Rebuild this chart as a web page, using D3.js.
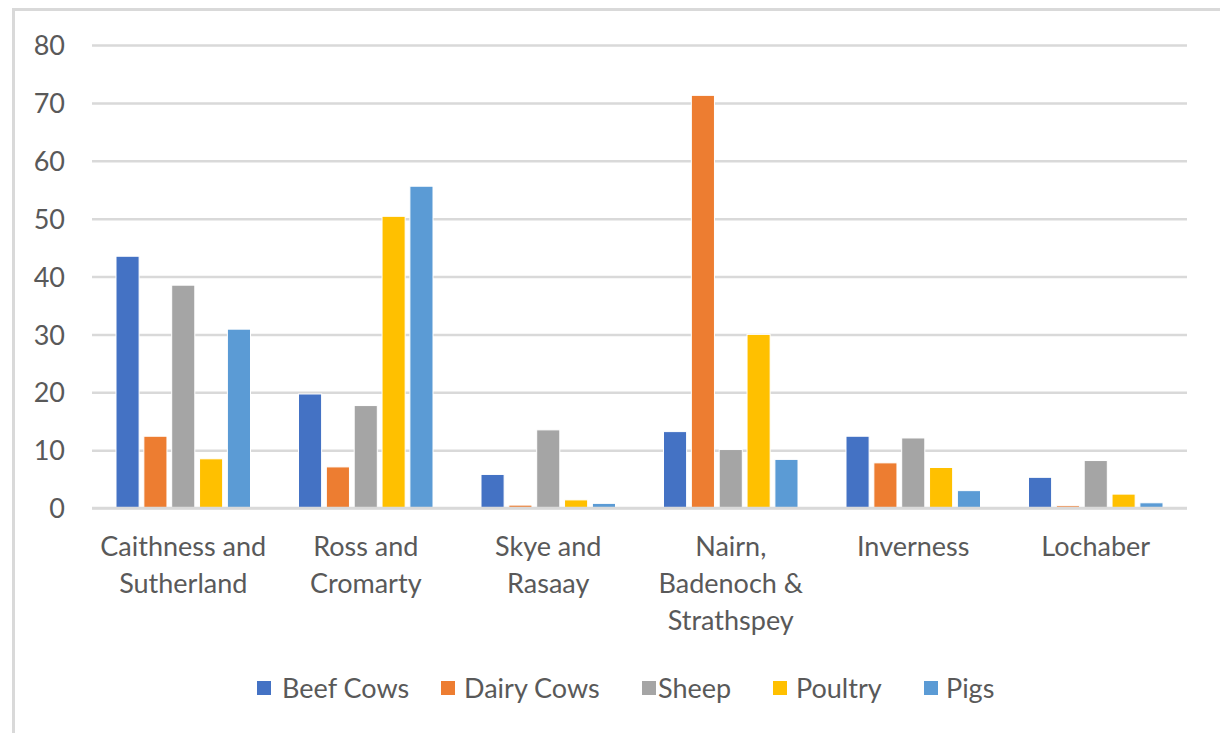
<!DOCTYPE html>
<html>
<head>
<meta charset="utf-8">
<script src="https://cdn.jsdelivr.net/npm/d3@7"></script>
<style>
  html, body { margin: 0; padding: 0; background: #fff; }
  svg { display: block; }
  text { font-family: Lato, "Open Sans", sans-serif; fill: #595959; }
</style>
</head>
<body>
<svg id="chart" width="1220" height="733"></svg>
<script>
// Districts (wrapped the way the axis shows them)
const categories = [
  "Caithness and Sutherland",
  "Ross and Cromarty",
  "Skye and Rasaay",
  "Nairn, Badenoch & Strathspey",
  "Inverness",
  "Lochaber"
];
const categoryLines = [
  ["Caithness and", "Sutherland"],
  ["Ross and", "Cromarty"],
  ["Skye and", "Rasaay"],
  ["Nairn,", "Badenoch &", "Strathspey"],
  ["Inverness"],
  ["Lochaber"]
];

const seriesNames = ["Beef Cows", "Dairy Cows", "Sheep", "Poultry", "Pigs"];
const seriesColors = ["#4472C4", "#ED7D31", "#A5A5A5", "#FFC000", "#5B9BD5"];

// Percentage share per district, one array per livestock type
const beefCows  = [43.5, 19.7,  5.8, 13.2, 12.4, 5.3];
const dairyCows = [12.4,  7.1,  0.5, 71.3,  7.8, 0.4];
const sheep     = [38.5, 17.7, 13.5, 10.1, 12.1, 8.2];
const poultry   = [ 8.5, 50.4,  1.4, 30.0,  7.0, 2.4];
const pigs      = [30.9, 55.6,  0.8,  8.4,  3.0, 0.9];
const seriesValues = [beefCows, dairyCows, sheep, poultry, pigs];

const yTicks = [0, 10, 20, 30, 40, 50, 60, 70, 80];

const svg = d3.select("#chart");
const W = 1220, H = 733;
const plot = { left: 92, right: 1187, top: 45, bottom: 508 };
const fontSize = "27px";

// Outer frame (top and left edges visible)
svg.append("path")
  .attr("d", `M13.5,${H} V9.5 H${W}`)
  .attr("fill", "none")
  .attr("stroke", "#D9D9D9")
  .attr("stroke-width", 3);

const y = d3.scaleLinear().domain([0, 80]).range([plot.bottom, plot.top]);
const x0 = d3.scaleBand().domain(categories).range([plot.left, plot.right]).padding(0);
const groupPad = 24;
const x1 = d3.scaleBand().domain(seriesNames)
  .range([groupPad, x0.bandwidth() - groupPad])
  .paddingInner(0.17).paddingOuter(0);

// Gridlines and value labels
const yAxis = d3.axisLeft(y).tickValues(yTicks).tickSize(0).tickPadding(0);
const gy = svg.append("g").attr("transform", `translate(${plot.left},0)`).call(yAxis);
gy.select(".domain").remove();
gy.selectAll(".tick line")
  .attr("x2", plot.right - plot.left)
  .attr("stroke", "#D9D9D9")
  .attr("stroke-width", 2.5);
gy.selectAll(".tick text")
  .attr("x", -27)
  .attr("dy", "0.36em")
  .attr("text-anchor", "end")
  .style("font-size", fontSize)
  .style("font-family", "Lato, 'Open Sans', sans-serif")
  .attr("fill", "#595959");

// Bars
const rows = categories.map((c, i) => ({
  cat: c,
  vals: seriesNames.map((s, j) => ({ series: s, color: seriesColors[j], value: seriesValues[j][i] }))
}));

const groups = svg.append("g").selectAll("g")
  .data(rows).join("g")
  .attr("transform", d => `translate(${x0(d.cat)},0)`);

groups.selectAll("rect")
  .data(d => d.vals).join("rect")
  .attr("x", d => x1(d.series))
  .attr("width", x1.bandwidth())
  .attr("y", d => y(d.value))
  .attr("height", d => y(0) - y(d.value))
  .attr("fill", d => d.color)
  .attr("stroke", "#fff")
  .attr("stroke-width", 1);

// Baseline drawn over the bar feet
svg.append("line")
  .attr("x1", plot.left).attr("x2", plot.right)
  .attr("y1", y(0)).attr("y2", y(0))
  .attr("stroke", "#D9D9D9").attr("stroke-width", 2.5);

// Category labels
const catLabels = svg.append("g").selectAll("text")
  .data(categories).join("text")
  .attr("x", d => x0(d) + x0.bandwidth() / 2)
  .attr("y", 556)
  .attr("text-anchor", "middle")
  .style("font-size", fontSize);
catLabels.selectAll("tspan")
  .data((d, i) => categoryLines[i]).join("tspan")
  .attr("x", function () { return d3.select(this.parentNode).attr("x"); })
  .attr("dy", (d, i) => i === 0 ? 0 : 37)
  .text(d => d);

// Legend: swatch and label positions along the bottom row
const legendX = [257, 441, 642, 773, 924];
const legendTextX = [282, 464, 658, 796, 946];
const legend = svg.append("g").selectAll("g")
  .data(seriesNames).join("g");
legend.append("rect")
  .attr("x", (d, i) => legendX[i]).attr("y", 681).attr("width", 14).attr("height", 14)
  .attr("fill", (d, i) => seriesColors[i]);
legend.append("text")
  .attr("x", (d, i) => legendTextX[i]).attr("y", 688).attr("dy", "0.36em")
  .style("font-size", fontSize)
  .text(d => d);
</script>
</body>
</html>
